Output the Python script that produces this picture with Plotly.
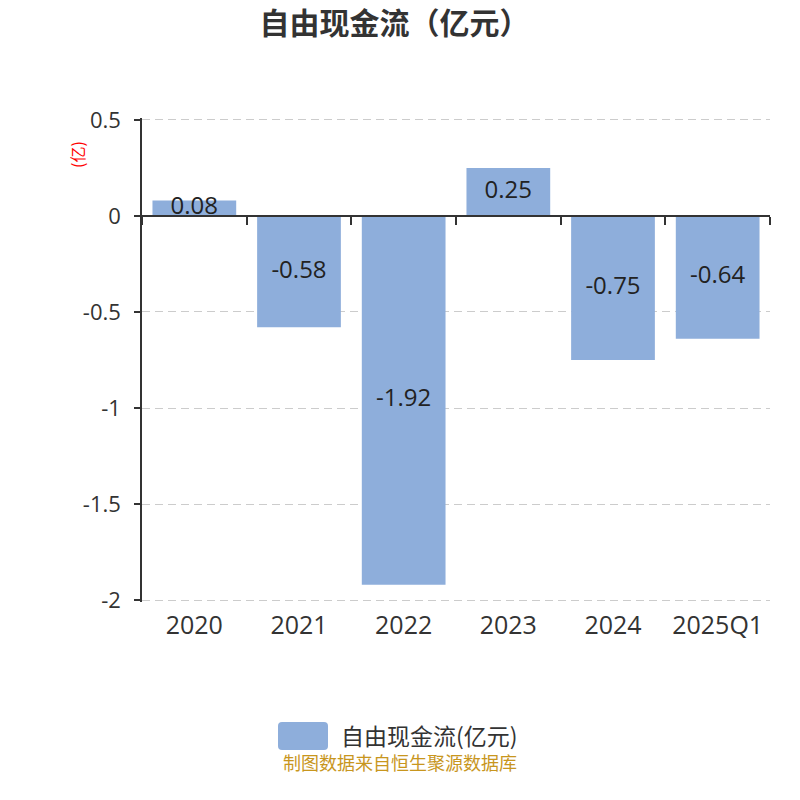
import plotly.graph_objects as go

categories = ["2020", "2021", "2022", "2023", "2024", "2025Q1"]
values = [0.08, -0.58, -1.92, 0.25, -0.75, -0.64]
value_labels = ["0.08", "-0.58", "-1.92", "0.25", "-0.75", "-0.64"]
ytick_vals = [0.5, 0, -0.5, -1, -1.5, -2]
ytick_text = ["0.5", "0", "-0.5", "-1", "-1.5", "-2"]
series_name = "自由现金流(亿元)"
title_text = "自由现金流（亿元）"
source_text = "制图数据来自恒生聚源数据库"

FONT = "Open Sans, Noto Sans CJK SC"
CJK = "Noto Sans CJK SC"
BAR_COLOR = "#8eaedb"
y_range = [-2.01, 0.51]

# plot-area geometry (pixels)
L, R, T, B = 142, 30, 118, 198
W, H = 800, 800
PW, PH = W - L - R, H - T - B


def px(x):
    return (x - L) / PW


def py(y):
    return (H - B - y) / PH


fig = go.Figure()
fig.add_trace(go.Bar(
    x=categories, y=values, name=series_name,
    marker=dict(color=BAR_COLOR, line=dict(width=0)),
    showlegend=False, hoverinfo="skip",
))
fig.add_trace(go.Scatter(
    x=categories, y=[v / 2 for v in values], mode="text",
    text=value_labels, textposition="middle center",
    textfont=dict(family=FONT, size=24, color="#222222"),
    showlegend=False, hoverinfo="skip",
))
# axis line at zero with boundary ticks
fig.add_trace(go.Scatter(
    x=categories, y=[None] * len(categories), xaxis="x2",
    showlegend=False, hoverinfo="skip",
))

zero_pos = (0 - y_range[0]) / (y_range[1] - y_range[0])

# rounded legend swatch
x0, x1, y0, y1 = px(278), px(328), py(722), py(750)
rx, ry = 4 / PW, 4 / PH
swatch = (f"M {x0+rx},{y0} L {x1-rx},{y0} Q {x1},{y0} {x1},{y0-ry} "
          f"L {x1},{y1+ry} Q {x1},{y1} {x1-rx},{y1} L {x0+rx},{y1} "
          f"Q {x0},{y1} {x0},{y1+ry} L {x0},{y0-ry} Q {x0},{y0} {x0+rx},{y0} Z")

fig.update_layout(
    width=W, height=H,
    margin=dict(l=L, r=R, t=T, b=B, autoexpand=False),
    paper_bgcolor="white", plot_bgcolor="white",
    bargap=0.2,
    showlegend=False,
    title=dict(text="<b>" + title_text + "</b>", x=0.493, xanchor="center",
               y=0.9705, yanchor="middle",
               font=dict(family=CJK, size=30, color="#333333")),
    xaxis=dict(
        type="category", showline=False, showgrid=False, zeroline=False,
        ticks="", tickfont=dict(family=FONT, size=25, color="#333333"),
        ticklabelstandoff=6, automargin=False,
    ),
    xaxis2=dict(
        type="category", overlaying="x", anchor="free", position=zero_pos,
        showline=True, linecolor="#333333", linewidth=1.5,
        ticks="outside", tickson="boundaries", ticklen=8, tickcolor="#333333",
        tickwidth=1.5, showticklabels=False, showgrid=False, zeroline=False,
        matches="x", automargin=False,
    ),
    yaxis=dict(
        range=y_range, tickvals=ytick_vals, ticktext=ytick_text,
        showline=True, linecolor="#333333", linewidth=1.5,
        ticks="outside", ticklen=6, tickcolor="#333333", tickwidth=1.5,
        showgrid=True, gridcolor="#cccccc", griddash="8px,5px", gridwidth=1.3,
        zeroline=False, automargin=False, ticklabelstandoff=9,
        tickfont=dict(family=FONT, size=22, color="#333333"),
    ),
    shapes=[
        dict(type="path", xref="paper", yref="paper", path=swatch,
             fillcolor=BAR_COLOR, line=dict(width=0)),
    ],
    annotations=[
        dict(text=series_name, xref="paper", yref="paper", x=px(339), y=py(735),
             xanchor="left", yanchor="middle", showarrow=False,
             font=dict(family=CJK, size=23, color="#333333")),
        dict(text="(亿)", xref="paper", yref="paper", x=px(77), y=py(155),
             xanchor="center", yanchor="middle", showarrow=False, textangle=-90,
             font=dict(family=CJK, size=16, color="red")),
        dict(text=source_text, xref="paper", yref="paper", x=px(400), y=py(762),
             xanchor="center", yanchor="middle", showarrow=False,
             font=dict(family=CJK, size=18, color="#c8961e")),
    ],
)

fig.write_html("out.html", config={"displayModeBar": False},
               post_script="document.body.style.margin='0';")
